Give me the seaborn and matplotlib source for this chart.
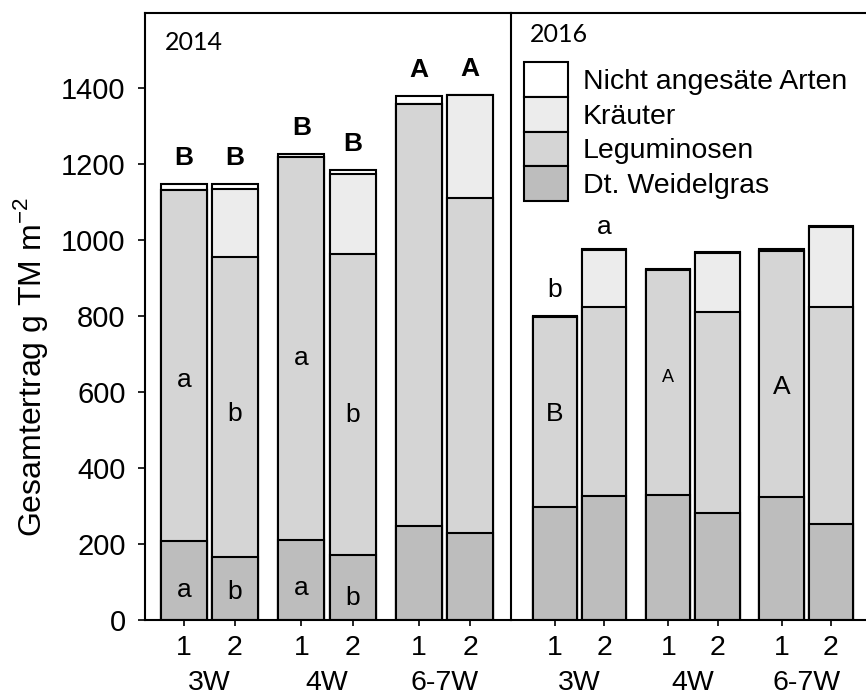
import matplotlib
matplotlib.use("Agg")
import matplotlib.pyplot as plt
import seaborn as sns
from matplotlib.patches import Patch

# Ertragsanteile (g TM m-2), je Jahr: 3W-1, 3W-2, 4W-1, 4W-2, 6-7W-1, 6-7W-2
weid_2014 = [208, 166, 211, 170, 247, 230]
legum_2014 = [924, 789, 1007, 792, 1111, 880]
kraeuter_2014 = [0, 179, 0, 212, 0, 270]
nicht_2014 = [15, 13, 8, 10, 21, 2]

weid_2016 = [298, 326, 329, 282, 324, 253]
legum_2016 = [499, 498, 593, 529, 646, 571]
kraeuter_2016 = [0, 150, 0, 155, 0, 210]
nicht_2016 = [3, 2, 2, 2, 6, 2]

bar_labels = ["1", "2", "1", "2", "1", "2"]
groups = ["3W", "4W", "6-7W"]
series = ["Nicht angesäte Arten", "Kräuter", "Leguminosen", "Dt. Weidelgras"]
colors = ["#ffffff", "#ececec", "#d5d5d5", "#bdbdbd"]

# Signifikanzbuchstaben
top_2014 = ["B", "B", "B", "B", "A", "A"]
legum_letters_2014 = ["a", "b", "a", "b"]
legum_letter_y_2014 = [632, 542, 690, 540]
weid_letters_2014 = ["a", "b", "a", "b"]
weid_letter_y_2014 = [79, 74, 84, 58]

pos = [0, 1, 2.3, 3.3, 4.6, 5.6]

sns.set_style("ticks")
plt.rcParams["font.family"] = ["Liberation Sans", "DejaVu Sans"]
plt.rcParams["axes.linewidth"] = 1.5
for key in ["text.color", "axes.labelcolor", "xtick.color", "ytick.color", "axes.edgecolor"]:
    plt.rcParams[key] = "black"


def stacked(ax, weid, legum, kraeuter, nicht):
    s1 = weid
    s2 = [a + b for a, b in zip(s1, legum)]
    s3 = [a + b for a, b in zip(s2, kraeuter)]
    s4 = [a + b for a, b in zip(s3, nicht)]
    for vals, col in zip([s4, s3, s2, s1], colors):
        sns.barplot(x=pos, y=vals, native_scale=True, color=col, saturation=1,
                    edgecolor="black", linewidth=1.5, width=0.9,
                    errorbar=None, ax=ax)
    return s2, s4


fig = plt.figure(figsize=(8.66, 7), dpi=100)
ax1 = fig.add_axes([145 / 866, 80 / 700, 366 / 866, 607 / 700])
ax2 = fig.add_axes([511 / 866, 80 / 700, 355 / 866, 607 / 700], sharey=ax1)
ax2.patch.set_alpha(0)

leg14, tot14 = stacked(ax1, weid_2014, legum_2014, kraeuter_2014, nicht_2014)
leg16, tot16 = stacked(ax2, weid_2016, legum_2016, kraeuter_2016, nicht_2016)

ax1.set_xlim(-0.76, 6.4)
ax2.set_xlim(-0.89, 6.31)
ax1.set_ylim(0, 1597)
ax1.set_yticks(range(0, 1401, 200))

for ax in (ax1, ax2):
    ax.set_xlabel("")
    ax.set_ylabel("")
    ax.set_xticks(pos)
    ax.set_xticklabels(bar_labels)
    ax.tick_params(axis="x", length=4, width=1.2, pad=7, labelsize=20.5)
    for i, g in enumerate(groups):
        xc = (pos[2 * i] + pos[2 * i + 1]) / 2
        ax.text(xc, -0.104, g, transform=ax.get_xaxis_transform(),
                ha="center", va="center", fontsize=20.5)

ax1.tick_params(axis="y", length=5, width=1.2, pad=9, labelsize=21)
ax2.tick_params(axis="y", left=False, labelleft=False)
ax2.spines["left"].set_visible(False)
ax2.spines["right"].set_visible(False)

ax1.set_ylabel("Gesamtertrag g TM m$^{\\mathregular{-2}}$", fontsize=23, labelpad=8)
ax1.yaxis.set_label_coords(-0.26, 0.417)

ax1.text(0.055, 0.952, "2014", transform=ax1.transAxes, ha="left", va="center",
         fontsize=18, family=["Lato", "DejaVu Sans"])
ax2.text(0.054, 0.964, "2016", transform=ax2.transAxes, ha="left", va="center",
         fontsize=18, family=["Lato", "DejaVu Sans"])

# Buchstaben 2014
for x, t, lab in zip(pos, tot14, top_2014):
    ax1.text(x, t + 68, lab, ha="center", va="center", fontsize=19, fontweight="bold")
for x, lab, y in zip(pos, legum_letters_2014, legum_letter_y_2014):
    ax1.text(x, y, lab, ha="center", va="center", fontsize=19)
for x, lab, y in zip(pos, weid_letters_2014, weid_letter_y_2014):
    ax1.text(x, y, lab, ha="center", va="center", fontsize=19)

# Buchstaben 2016
ax2.text(pos[0], tot16[0] + 68, "b", ha="center", va="center", fontsize=19)
ax2.text(pos[1], tot16[1] + 58, "a", ha="center", va="center", fontsize=19)
ax2.text(pos[0], 542, "B", ha="center", va="center", fontsize=19)
ax2.text(pos[2], 637, "A", ha="center", va="center", fontsize=13)
ax2.text(pos[4], 613, "A", ha="center", va="center", fontsize=19)

handles = [Patch(facecolor=c, edgecolor="black", linewidth=1.5) for c in colors]
ax2.legend(handles, series, loc="upper left", bbox_to_anchor=(0.037, 0.919),
           frameon=False, fontsize=20.5, handlelength=1.55, handleheight=1.5,
           labelspacing=0.0, handletextpad=0.5, borderpad=0, borderaxespad=0)

fig.savefig("out.png", dpi=100)
